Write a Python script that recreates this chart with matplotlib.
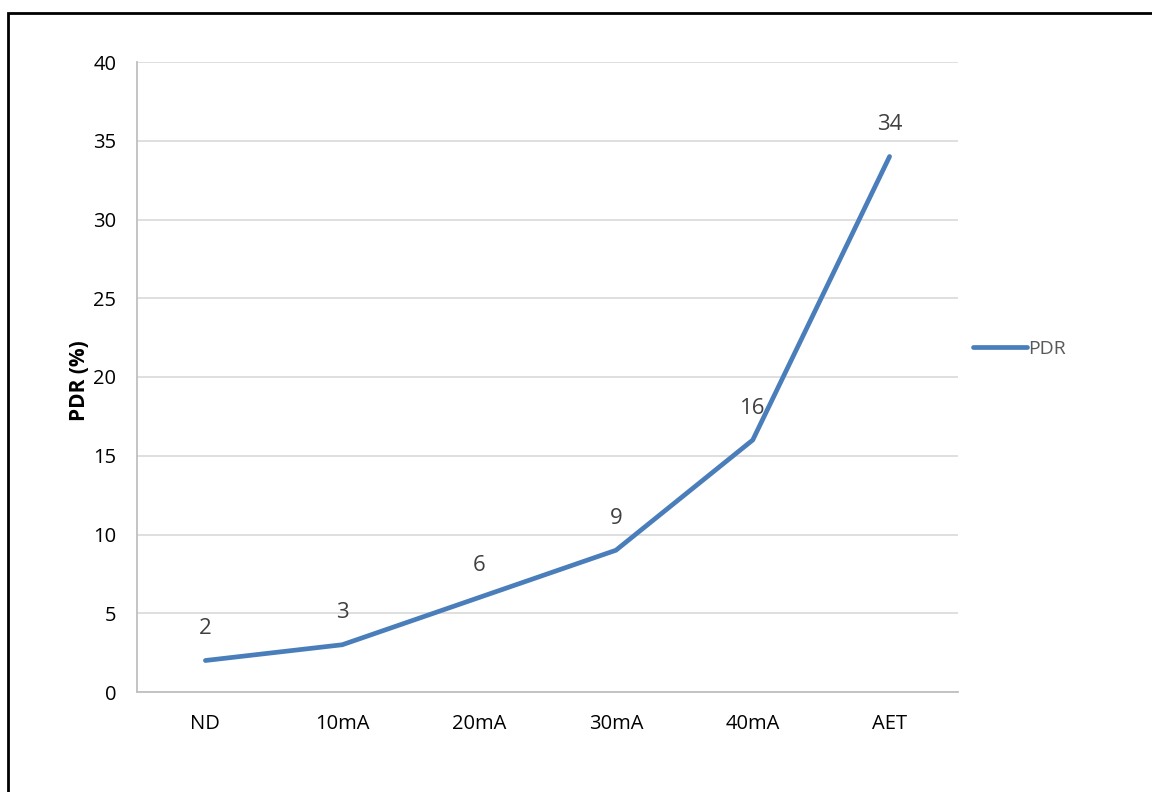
import matplotlib.pyplot as plt
from matplotlib.patches import Rectangle

categories = ["ND", "10mA", "20mA", "30mA", "40mA", "AET"]
pdr = [2, 3, 6, 9, 16, 34]

line_color = "#4a7ebb"
grid_color = "#d9d9d9"
axis_color = "#bfbfbf"

plt.rcParams["font.family"] = ["Open Sans", "DejaVu Sans"]

fig = plt.figure(figsize=(11.52, 7.92), dpi=100)
ax = fig.add_axes([137 / 1152, 1 - 692 / 792, 821 / 1152, 630 / 792])

x = list(range(len(categories)))
ax.plot(x, pdr, color=line_color, linewidth=3.4, solid_capstyle="round",
        solid_joinstyle="round", label="PDR")

for xi, v in zip(x, pdr):
    ax.annotate(str(v), (xi, v), xytext=(0, 23), textcoords="offset points",
                ha="center", va="center", fontsize=16, color="#404040")

ax.set_xlim(-0.5, len(categories) - 0.5)
ax.set_ylim(0, 40)
ax.set_yticks(range(0, 41, 5))
ax.set_xticks(x)
ax.set_xticklabels(categories)
ax.tick_params(axis="both", length=0, labelsize=14.5, colors="black")
ax.tick_params(axis="x", pad=16)
ax.tick_params(axis="y", pad=15)

ax.grid(axis="y", color=grid_color, linewidth=1.2)
ax.set_axisbelow(True)
for side in ("top", "right"):
    ax.spines[side].set_visible(False)
for side in ("left", "bottom"):
    ax.spines[side].set_color(axis_color)
    ax.spines[side].set_linewidth(1.3)

ax.set_ylabel("PDR (%)", fontsize=15, fontweight="bold")
ax.yaxis.set_label_coords(-47 / 821, 0.495)

leg = ax.legend(loc="center left", bbox_to_anchor=(0.997, 0.545), frameon=False,
                fontsize=14, handlelength=2.8, handletextpad=0.05)
for t in leg.get_texts():
    t.set_color("#595959")

# chart border, running off the right and bottom edges
fig.patches.append(Rectangle((8 / 1152, -0.1), 1.2, 1 - 13 / 792 + 0.1,
                             transform=fig.transFigure, fill=False,
                             edgecolor="black", linewidth=2))

fig.savefig("out.png", dpi=100)
